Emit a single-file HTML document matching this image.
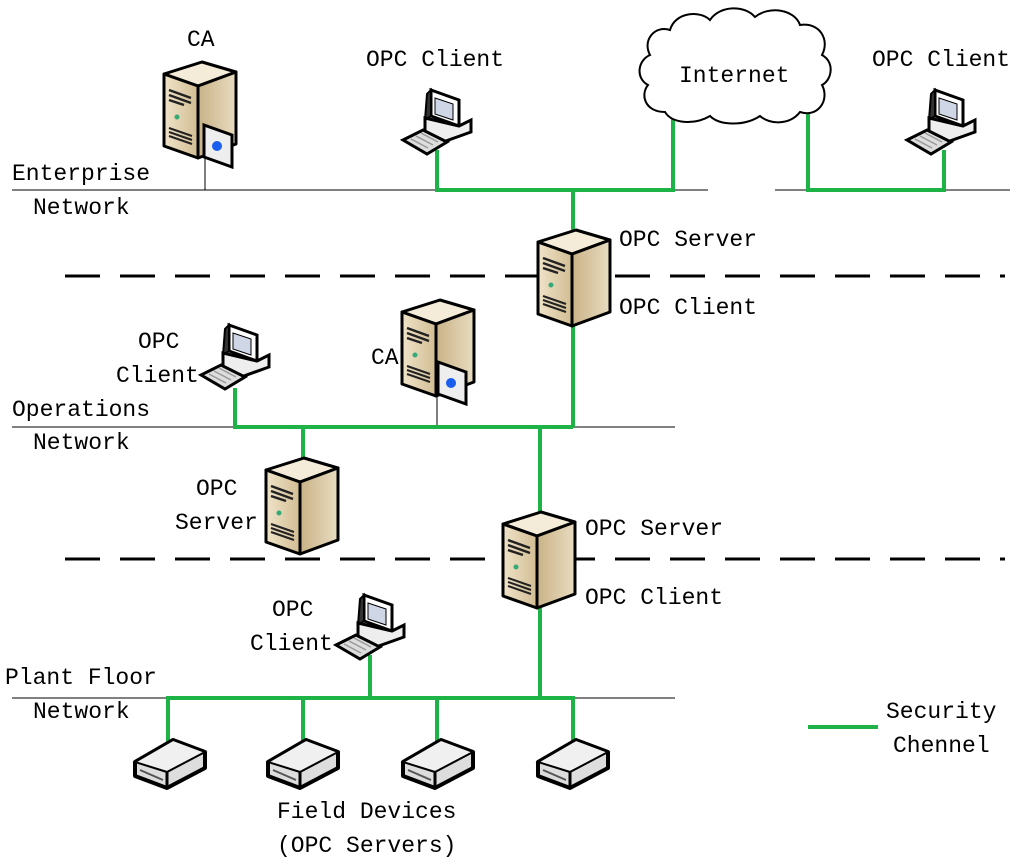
<!DOCTYPE html>
<html><head><meta charset="utf-8"><style>
html,body{margin:0;padding:0;background:#fff}
svg text{font-family:"Liberation Mono",monospace;font-size:23px;fill:#000}
</style></head><body>
<svg width="1024" height="863" viewBox="0 0 1024 863" xmlns="http://www.w3.org/2000/svg">
<defs>
<linearGradient id="sf" x1="0" x2="1"><stop offset="0" stop-color="#efe3c8"/><stop offset="1" stop-color="#d2bd93"/></linearGradient>
<linearGradient id="ss" x1="0" x2="1"><stop offset="0" stop-color="#c9b287"/><stop offset="1" stop-color="#e9dcc0"/></linearGradient>
<g id="srv">
<polygon points="0,12 38,0 72,10 34,24" fill="#f4ecd9" stroke="#000" stroke-width="3" stroke-linejoin="round"/>
<polygon points="0,12 34,24 34,96 0,84" fill="url(#sf)" stroke="#000" stroke-width="3" stroke-linejoin="round"/>
<polygon points="34,24 72,10 72,82 34,96" fill="url(#ss)" stroke="#000" stroke-width="3" stroke-linejoin="round"/>
<path d="M5,28 L27,36 M5,33 L27,41 M5,38 L20,43" stroke="#222" stroke-width="2.5"/>
<circle cx="13" cy="55" r="2.5" fill="#3a7"/>
<path d="M5,66 L28,74 M5,70 L28,78 M5,74 L28,82" stroke="#222" stroke-width="2"/>
</g>
<g id="card">
<polygon points="0,0 28,10 28,42 0,32" fill="#eee" stroke="#000" stroke-width="3"/>
<circle cx="13" cy="21" r="5" fill="#1a5ef0"/>
</g>
<g id="pc">
<polygon points="28,0 56,10 56,36 28,26" fill="#fff" stroke="#000" stroke-width="3"/>
<polygon points="32,8 50,14 50,30 32,24" fill="#cfd6e6" stroke="#000" stroke-width="1"/>
<polygon points="24,4 28,0 28,26 22,30" fill="#333" stroke="#000" stroke-width="2"/>
<polygon points="22,28 56,36 68,30 68,42 40,52 22,44" fill="#eee" stroke="#000" stroke-width="3"/>
<polygon points="0,50 20,40 44,52 24,64" fill="#ddd" stroke="#000" stroke-width="3"/>
<path d="M8,49 L25,58 M13,46 L30,55 M18,43 L35,52" stroke="#999" stroke-width="1.5"/>
</g>
<g id="dev">
<polygon points="0,22 38,0 70,12 70,28 32,48 0,36" fill="#ddd" stroke="#000" stroke-width="4" stroke-linejoin="round"/>
<polygon points="0,22 38,0 70,12 32,32" fill="#f0f0f0" stroke="#000" stroke-width="2"/>
<path d="M32,32 L32,48" stroke="#000" stroke-width="3"/>
<path d="M5,30 L28,40" stroke="#555" stroke-width="2"/>
</g>
</defs>

<!-- thin network lines -->
<g stroke="#000" stroke-width="1">
<line x1="12" y1="190" x2="708" y2="190"/><line x1="775" y1="190" x2="1010" y2="190"/>
<line x1="12" y1="427" x2="675" y2="427"/>
<line x1="12" y1="698" x2="675" y2="698"/>
<line x1="205" y1="150" x2="205" y2="190"/>
<line x1="437" y1="390" x2="437" y2="427"/>
</g>
<g stroke="#000" stroke-width="3" stroke-dasharray="35,20">
<line x1="65" y1="276" x2="1005" y2="276"/>
<line x1="65" y1="559" x2="1005" y2="559"/>
</g>

<!-- green security channels -->
<g stroke="#1db347" stroke-width="4" fill="none">
<polyline points="437,150 437,190 673,190 673,113"/>
<polyline points="808,113 808,190 944,190 944,150"/>
<line x1="573" y1="190" x2="573" y2="235"/>
<line x1="573" y1="318" x2="573" y2="427"/>
<polyline points="235,388 235,427 573,427"/>
<line x1="303" y1="427" x2="303" y2="468"/>
<line x1="540" y1="427" x2="540" y2="520"/>
<line x1="540" y1="600" x2="540" y2="698"/>
<line x1="370" y1="655" x2="370" y2="698"/>
<polyline points="168,742 168,698 573,698 573,742"/>
<line x1="303" y1="698" x2="303" y2="742"/>
<line x1="437" y1="698" x2="437" y2="742"/>
<line x1="808" y1="727" x2="878" y2="727"/>
</g>

<!-- cloud -->
<path d="M665,112 C645,112 640,95 648,85 C635,78 638,60 650,55 C642,40 655,25 670,30 C675,12 700,10 710,20 C720,5 745,5 755,17 C770,5 795,10 800,25 C820,22 830,40 822,55 C835,62 832,80 822,85 C830,100 818,118 800,112 C790,125 770,125 760,116 C745,126 720,126 710,116 C695,125 672,124 665,112 Z" fill="#fff" stroke="#000" stroke-width="2"/>

<!-- devices -->
<use href="#srv" x="164" y="62"/><use href="#card" x="204" y="125"/>
<use href="#srv" x="538" y="230"/>
<use href="#srv" x="402" y="300"/><use href="#card" x="438" y="362"/>
<use href="#srv" x="266" y="458"/>
<use href="#srv" x="503" y="512"/>
<use href="#pc" x="403" y="90"/>
<use href="#pc" x="907" y="90"/>
<use href="#pc" x="201" y="325"/>
<use href="#pc" x="336" y="595"/>
<use href="#dev" x="135" y="740"/>
<use href="#dev" x="268" y="740"/>
<use href="#dev" x="403" y="740"/>
<use href="#dev" x="538" y="740"/>

<!-- labels -->
<text x="187" y="46">CA</text>
<text x="366" y="66">OPC Client</text>
<text x="679" y="82">Internet</text>
<text x="872" y="66">OPC Client</text>
<text x="12" y="180">Enterprise</text>
<text x="33" y="214">Network</text>
<text x="619" y="246">OPC Server</text>
<text x="619" y="314">OPC Client</text>
<text x="138" y="348">OPC</text>
<text x="116" y="382">Client</text>
<text x="371" y="364">CA</text>
<text x="12" y="416">Operations</text>
<text x="33" y="449">Network</text>
<text x="196" y="495">OPC</text>
<text x="175" y="529">Server</text>
<text x="585" y="535">OPC Server</text>
<text x="585" y="604">OPC Client</text>
<text x="272" y="616">OPC</text>
<text x="250" y="650">Client</text>
<text x="5" y="684">Plant Floor</text>
<text x="33" y="718">Network</text>
<text x="886" y="718">Security</text>
<text x="893" y="752">Chennel</text>
<text x="277" y="818">Field Devices</text>
<text x="277" y="852">(OPC Servers)</text>
</svg>
</body></html>
